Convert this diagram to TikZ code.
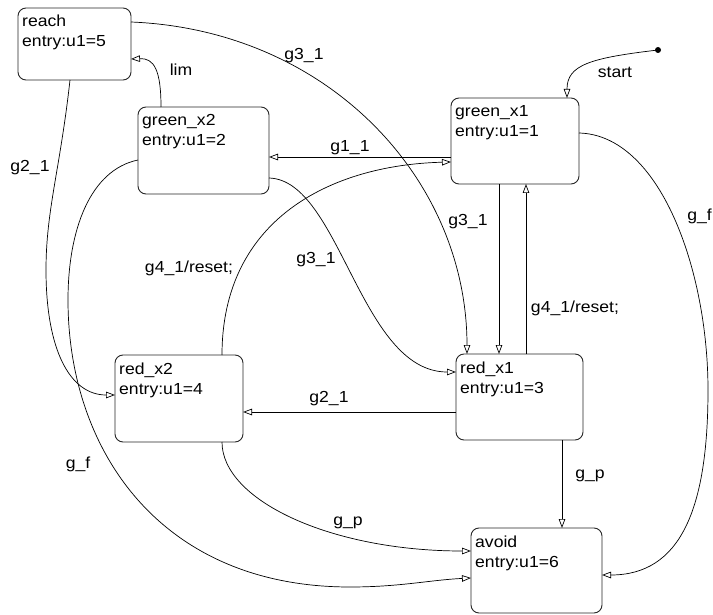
\documentclass[tikz,border=0pt]{standalone}
\usepackage{fontspec}
\setmainfont{Liberation Sans}[FakeStretch=1.1]
\usetikzlibrary{arrows.meta,calc}
\tikzset{
  statebox/.style={draw=black!85, line width=0.9pt, rounded corners=8pt, anchor=north west, inner sep=0pt, outer sep=0pt},
  stxt/.style={anchor=base west, inner sep=0pt, font=\fontsize{16}{20}\selectfont},
  lbl/.style={inner sep=0pt, font=\fontsize{16}{20}\selectfont},
  tr/.style={draw=black, line width=0.7pt, -{Triangle[open, length=9pt, width=6.5pt, line width=0.7pt]}},
}
\begin{document}
\begin{tikzpicture}[x=1pt, y=-1pt]
\useasboundingbox (0,0) rectangle (713,615);
% states
\node[statebox, minimum width=113pt, minimum height=72pt] (reach) at (18,8) {};
\node[statebox, minimum width=131pt, minimum height=87pt] (gx2) at (138,107) {};
\node[statebox, minimum width=128pt, minimum height=86pt] (gx1) at (451,98) {};
\node[statebox, minimum width=127pt, minimum height=86pt] (rx1) at (456,354) {};
\node[statebox, minimum width=128pt, minimum height=87pt] (rx2) at (115,355) {};
\node[statebox, minimum width=131pt, minimum height=85pt] (avoid) at (471,528) {};
% state texts
\node[stxt] (reach-a) at ($(reach.north west)+(4,19)$) {reach};
\node[stxt] (reach-b) at ($(reach.north west)+(4,39)$) {entry:u1=5};
\node[stxt] (gx2-a) at ($(gx2.north west)+(4,19)$) {green\_x2};
\node[stxt] (gx2-b) at ($(gx2.north west)+(4,39)$) {entry:u1=2};
\node[stxt] (gx1-a) at ($(gx1.north west)+(4,19)$) {green\_x1};
\node[stxt] (gx1-b) at ($(gx1.north west)+(4,39)$) {entry:u1=1};
\node[stxt] (rx1-a) at ($(rx1.north west)+(4,19)$) {red\_x1};
\node[stxt] (rx1-b) at ($(rx1.north west)+(4,39)$) {entry:u1=3};
\node[stxt] (rx2-a) at ($(rx2.north west)+(4,19)$) {red\_x2};
\node[stxt] (rx2-b) at ($(rx2.north west)+(4,39)$) {entry:u1=4};
\node[stxt] (avoid-a) at ($(avoid.north west)+(4,19)$) {avoid};
\node[stxt] (avoid-b) at ($(avoid.north west)+(4,39)$) {entry:u1=6};
% start dot
\node[circle, fill=black, inner sep=0pt, minimum size=6pt] (init) at (658,50) {};
\coordinate (gfr) at (708,390);
\coordinate (g2l) at (46,270);
\coordinate (gfl1) at (68,300);
\coordinate (gfl2) at (350,587);
% connectors
\draw[tr] (init.center) .. controls +(-68,8) and +(0,-33) .. ($(gx1.north west)+(116,0)$);
\draw[tr] ($(gx2.north west)+(23,0)$) .. controls +(0,-37) and +(23,-1) .. ($(reach.north east)+(0,51)$);
\draw[tr] ($(reach.north east)+(0,14)$) .. controls +(198,8) and +(0,-174) .. ($(rx1.north west)+(11,0)$);
\draw[tr] ($(gx1.north west)+(0,59)$) -- ($(gx2.north east)+(0,50)$);
\draw[tr] ($(rx2.north west)+(107,0)$) .. controls +(0,-135) and +(-121,3) .. ($(gx1.north west)+(0,64)$);
\draw[tr] ($(gx2.north east)+(0,71)$) .. controls +(71,2) and +(-96,0) .. ($(rx1.north west)+(0,18)$);
\draw[tr] ($(gx1.south west)+(48,0)$) -- ($(rx1.north west)+(43,0)$);
\draw[tr] ($(rx1.north west)+(70,0)$) -- ($(gx1.south west)+(75,0)$);
\draw[tr] ($(gx1.north east)+(0,35)$) .. controls +(81,2) and +(0,-120) .. (gfr)
   .. controls +(0,120) and +(78,0) .. ($(avoid.north east)+(0,47)$);
\draw[tr] ($(reach.south west)+(52,0)$) .. controls +(-10,90) and +(0,-60) .. (g2l)
   .. controls +(0,80) and +(-45,0) .. ($(rx2.north west)+(0,40)$);
\draw[tr] ($(gx2.north west)+(0,53)$) .. controls +(-48,10) and +(0,-70) .. (gfl1)
   .. controls +(0,150) and +(-190,0) .. (gfl2)
   .. controls +(50,0) and +(-41,2) .. ($(avoid.north west)+(0,50)$);
\draw[tr] ($(rx1.north west)+(0,58)$) -- ($(rx2.north east)+(0,57)$);
\draw[tr] ($(rx1.south west)+(106,0)$) -- ($(avoid.north west)+(91,0)$);
\draw[tr] ($(rx2.south west)+(107,0)$) .. controls +(0,58) and +(-141,0) .. ($(avoid.north west)+(0,23)$);
% labels
\node[lbl] (l-start) at (615,72) {start};
\node[lbl] (l-lim) at (181,70) {lim};
\node[lbl] (l-g31a) at (304,56) {g3\_1};
\node[lbl] (l-g11) at (350,148) {g1\_1};
\node[lbl] (l-g21a) at (30,168) {g2\_1};
\node[lbl] (l-g41a) at (189,268) {g4\_1/reset;};
\node[lbl] (l-g31b) at (316,260) {g3\_1};
\node[lbl] (l-g31c) at (468,222) {g3\_1};
\node[lbl] (l-g41b) at (575,308) {g4\_1/reset;};
\node[lbl, anchor=east] (l-gfa) at (712,216) {g\_f};
\node[lbl] (l-g21b) at (329,399) {g2\_1};
\node[lbl] (l-gpa) at (590,476) {g\_p};
\node[lbl] (l-gfb) at (78,464) {g\_f};
\node[lbl] (l-gpb) at (348,523) {g\_p};
\end{tikzpicture}
\end{document}
